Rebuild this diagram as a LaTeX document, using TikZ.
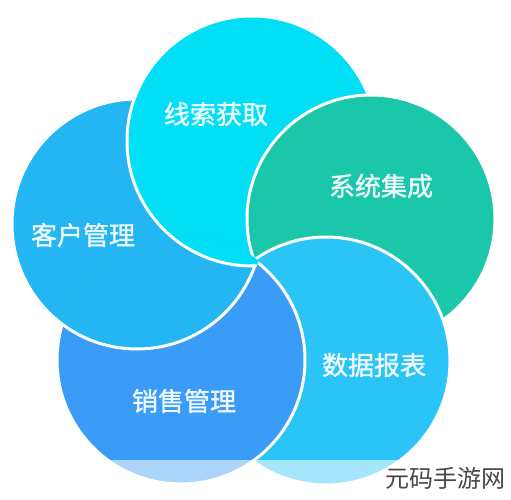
\documentclass[tikz,border=0pt]{standalone}
\usepackage{fontspec}
\newfontfamily\cjk{Noto Sans CJK SC}
\newfontfamily\cjkb[FakeBold=1.3]{Noto Sans CJK SC}
\definecolor{ctop}{HTML}{00DFF6}
\definecolor{cleft}{HTML}{24B6F2}
\definecolor{cgreen}{HTML}{1BC7AA}
\definecolor{cdata}{HTML}{2AC4F7}
\definecolor{csales}{HTML}{3A9CF6}
\tikzset{
  disc/.style={draw=white, line width=3pt},
  lbl/.style={text=white, font=\cjkb\fontsize{26}{26}\selectfont, text opacity=.9},
  wmark/.style={text=black!72, font=\cjk\fontsize{24}{24}\selectfont}
}
\begin{document}
\begin{tikzpicture}[x=1pt,y=-1pt]
\useasboundingbox (0,0) rectangle (511,500);
\fill[white] (0,0) rectangle (511,500);
\coordinate (pt) at (252,141);
\coordinate (pl) at (137,224);
\coordinate (pg) at (371,219);
\coordinate (pd) at (326,361);
\coordinate (ps) at (181,360);
\path[disc, fill=cleft]  (pl) circle[radius=125pt];
\path[disc, fill=ctop]   (pt) circle[radius=125pt];
\path[disc, fill=cgreen] (pg) circle[radius=124pt];
\path[disc, fill=cdata]  (pd) circle[radius=124pt];
\path[disc, fill=csales] (ps) circle[radius=124pt];
\begin{scope}
  \clip (ps) circle[radius=126pt];
  \path[disc, fill=cleft] (pl) circle[radius=125pt];
  \begin{scope}
    \clip (pl) circle[radius=127pt];
    \path[disc, fill=ctop] (pt) circle[radius=125pt];
  \end{scope}
\end{scope}
\fill[white, opacity=.58] (0,460) rectangle (511,500);
\node[lbl] (t1) at (216,114) {线索获取};
\node[lbl] (t2) at (381,186) {系统集成};
\node[lbl] (t3) at (83,235) {客户管理};
\node[lbl] (t4) at (374,365) {数据报表};
\node[lbl] (t5) at (184,401) {销售管理};
\node[wmark] (wm) at (445,478) {元码手游网};
\end{tikzpicture}
\end{document}
